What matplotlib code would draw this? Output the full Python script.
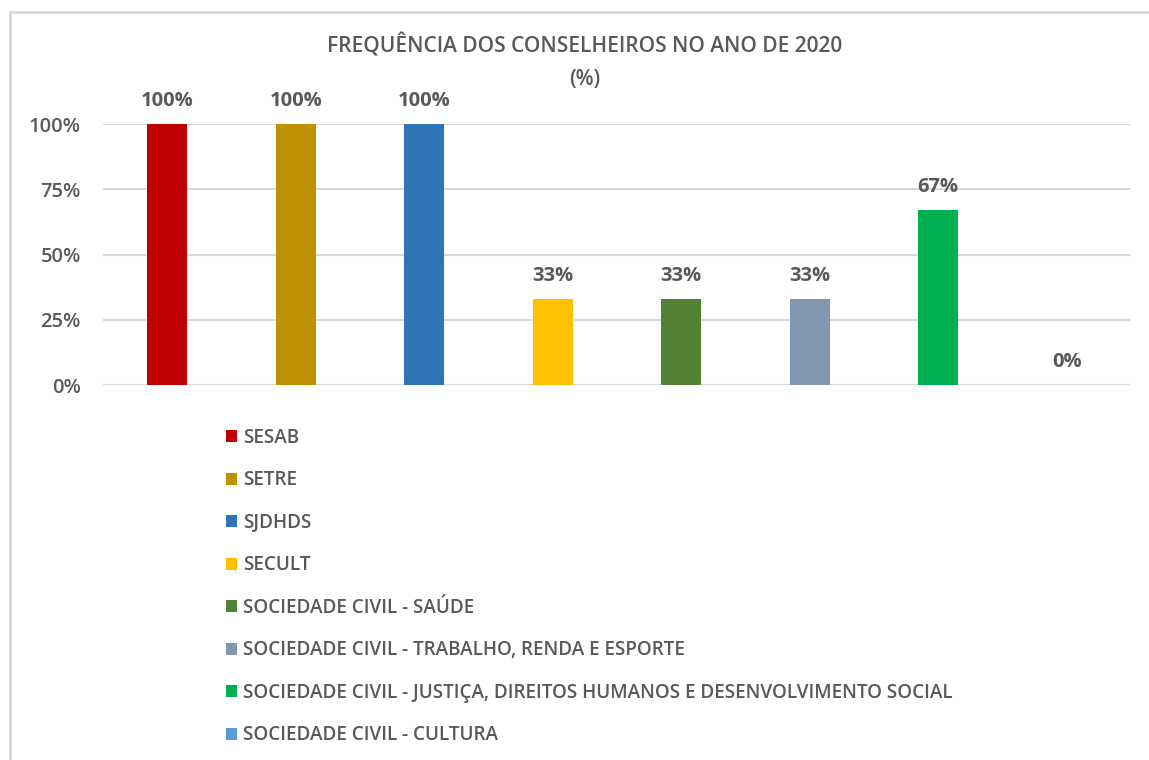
import numpy as np
import matplotlib
matplotlib.use("Agg")
import matplotlib.pyplot as plt
from matplotlib.patches import Patch
from matplotlib.lines import Line2D

plt.rcParams['font.family'] = ['Open Sans', 'DejaVu Sans']

# data
categories = ["SESAB", "SETRE", "SJDHDS", "SECULT",
              "SOCIEDADE CIVIL - SAÚDE",
              "SOCIEDADE CIVIL - TRABALHO, RENDA E ESPORTE",
              "SOCIEDADE CIVIL - JUSTIÇA, DIREITOS HUMANOS E DESENVOLVIMENTO SOCIAL",
              "SOCIEDADE CIVIL - CULTURA"]
values = [100, 100, 100, 33, 33, 33, 67, 0]
colors = ["#C00000", "#BF9000", "#2E75B6", "#FFC000",
          "#548235", "#8497B0", "#00B050", "#5B9BD5"]
yticks = [0, 25, 50, 75, 100]

txt = "#595959"

fig = plt.figure(figsize=(11.49, 7.60), dpi=100)
ax = fig.add_axes([0.0896, 0.4934, 0.8947, 0.3434])

x = np.arange(len(values))
bars = ax.bar(x, values, width=0.31, color=colors, zorder=3)

# data labels
for xi, v in zip(x, values):
    ax.annotate(f"{v}%", (xi, v), xytext=(0, 16.5), textcoords="offset points",
                ha="center", va="center", fontsize=14.5, color=txt, fontweight="bold")

ax.set_xlim(-0.5, len(values) - 0.5)
ax.set_ylim(0, 100)
ax.set_yticks(yticks)
ax.set_yticklabels([f"{t}%" for t in yticks], fontsize=14.5, color=txt,
                   fontweight="semibold")
ax.set_xticks([])
ax.tick_params(axis="y", length=0, pad=16)
ax.yaxis.grid(True, color="#D9D9D9", linewidth=1.5, zorder=0)
ax.set_axisbelow(True)
for s in ax.spines.values():
    s.set_visible(False)

fig.text(0.509, 0.94, "FREQUÊNCIA DOS CONSELHEIROS NO ANO DE 2020", ha="center",
         va="center", fontsize=15, color=txt, fontweight="semibold")
fig.text(0.509, 0.895, "(%)", ha="center", va="center", fontsize=15, color=txt,
         fontweight="semibold")

handles = [Patch(facecolor=c) for c in colors]
fig.legend(handles, categories, loc="upper left", bbox_to_anchor=(0.19, 0.447),
           frameon=False, handlelength=0.6, handleheight=0.6, handletextpad=0.3,
           labelspacing=1.19, prop={"size": 13.6, "weight": "semibold"},
           labelcolor=txt, borderaxespad=0)

# outer frame (top and left edges)
fig.add_artist(Line2D([10 / 1149, 1], [1 - 12 / 760, 1 - 12 / 760], color="#D9D9D9", lw=2))
fig.add_artist(Line2D([10 / 1149, 10 / 1149], [0, 1 - 12 / 760], color="#D9D9D9", lw=2))

fig.savefig("out.png", dpi=100)
